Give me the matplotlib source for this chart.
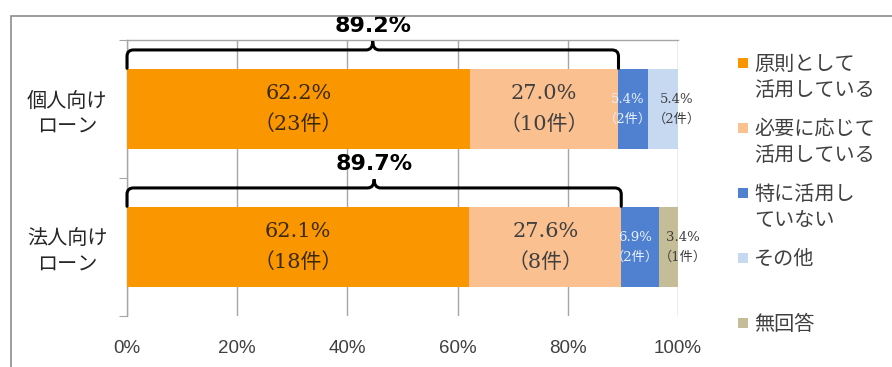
import matplotlib.pyplot as plt
import numpy as np
from matplotlib.patches import PathPatch, Rectangle
from matplotlib.path import Path

CATEGORIES = ["個人向け\nローン", "法人向け\nローン"]
SERIES = [
    "原則として\n活用している",
    "必要に応じて\n活用している",
    "特に活用し\nていない",
    "その他",
    "無回答",
]
# share (%) per category, one list per series
PCT = [
    [62.2, 62.1],
    [27.0, 27.6],
    [5.4, 6.9],
    [5.4, 0.0],
    [0.0, 3.4],
]
COUNTS = [
    [23, 18],
    [10, 8],
    [2, 2],
    [2, 0],
    [0, 1],
]
COLORS = ["#FA9600", "#FAC090", "#4F81D0", "#C6D9F1", "#C4BD97"]
LABEL_COLORS = ["#3B2A0A", "#404040", "#E8F0FC", "#404040", "#404040"]
XTICKS = [0, 20, 40, 60, 80, 100]

JP = "Noto Sans CJK JP"
SERIF = ["DejaVu Serif", JP]
BAR_H = 0.58
# horizontal nudge (points) for labels of the narrow segments
LABEL_DX = [0, 0, -4, 10, 10]


def brace(ax, x0, x1, base, y_line, y_tip):
    """Curly bracket spanning x0..x1, ends resting on `base`."""
    mid = (x0 + x1) / 2
    rx = 1.2
    ry = (y_line - base) * 0.35
    verts = [
        (x0, base), (x0, y_line - ry), (x0, y_line), (x0 + rx, y_line),
        (mid - rx, y_line), (mid, y_line), (mid, y_tip),
        (mid, y_line), (mid + rx, y_line),
        (x1 - rx, y_line), (x1, y_line), (x1, y_line - ry),
        (x1, base),
    ]
    codes = [
        Path.MOVETO, Path.LINETO, Path.CURVE3, Path.CURVE3,
        Path.LINETO, Path.CURVE3, Path.CURVE3,
        Path.CURVE3, Path.CURVE3,
        Path.LINETO, Path.CURVE3, Path.CURVE3,
        Path.LINETO,
    ]
    ax.add_patch(PathPatch(Path(verts, codes), fill=False, lw=2.2,
                           ec="black", capstyle="round", clip_on=False, zorder=5))


def main() -> None:
    plt.rcParams["font.family"] = [JP, "DejaVu Sans"]
    fig = plt.figure(figsize=(8.92, 3.67), dpi=100)
    ax = fig.add_axes([127 / 892, 1 - 316 / 367, 551 / 892, 276 / 367])

    # outer chart frame
    fig.patches.append(Rectangle((11 / 892, -0.2), 1.2, 1.2 - 16 / 367,
                                 transform=fig.transFigure, fill=False,
                                 ec="#8C8C8C", lw=1.2))

    ypos = np.arange(len(CATEGORIES))[::-1]
    left = np.zeros(len(CATEGORIES))
    for i, (vals, cnts) in enumerate(zip(PCT, COUNTS)):
        vals = np.array(vals)
        ax.barh(ypos, vals, left=left, height=BAR_H, color=COLORS[i],
                zorder=3, lw=0)
        for j, (v, c) in enumerate(zip(vals, cnts)):
            if v <= 0:
                continue
            xc = left[j] + v / 2
            big = v > 15
            ax.annotate(
                f"{v:.1f}%\n（{c}件）",
                (xc, ypos[j]), xytext=(LABEL_DX[i], 0),
                textcoords="offset points",
                ha="center", va="center", ma="center",
                fontsize=15 if big else 9.5, family=SERIF,
                color=LABEL_COLORS[i], linespacing=1.7 if big else 1.65,
                zorder=6, annotation_clip=False,
            )
        left = left + vals

    # bracket over the first two series
    totals = np.array(PCT[0]) + np.array(PCT[1])
    for j, tot in enumerate(totals):
        top = ypos[j] + BAR_H / 2
        brace(ax, 0, tot, top + 0.005, top + 0.138, top + 0.20)
        ax.text(tot / 2, top + 0.31, f"{tot:.1f}%", ha="center", va="center",
                fontsize=16, fontweight="bold", family="DejaVu Sans",
                color="black", zorder=6, clip_on=False)

    ax.set_xlim(0, 100)
    ax.set_ylim(-0.5, len(CATEGORIES) - 0.5)
    ax.set_xticks(XTICKS)
    ax.set_xticklabels([f"{t}%" for t in XTICKS], family="Liberation Sans",
                       fontsize=13.5, color="#404040")
    ax.tick_params(axis="x", length=0, pad=17)
    ax.grid(True, axis="x", color="#A6A6A6", lw=1, zorder=0)

    ax.set_yticks(np.arange(-0.5, len(CATEGORIES)))
    ax.set_yticklabels([])
    ax.tick_params(axis="y", which="major", length=6, color="#A6A6A6",
                   direction="out")
    ax.set_yticks(ypos, minor=True)
    ax.set_yticklabels(CATEGORIES, minor=True, fontsize=14.5, color="#262626")
    ax.tick_params(axis="y", which="minor", length=0, pad=14)
    for lab in ax.get_yticklabels(minor=True):
        lab.set_multialignment("center")
        lab.set_linespacing(1.35)

    for side in ("bottom", "right"):
        ax.spines[side].set_visible(False)
    for side in ("left", "top"):
        ax.spines[side].set_color("#A6A6A6")
        ax.spines[side].set_linewidth(1)

    # legend: one slot per series, square beside the first text line
    for i, name in enumerate(SERIES):
        y_first = 1 - (63 + i * 65) / 367
        fig.patches.append(Rectangle((738 / 892, y_first - 5 / 367), 10 / 892,
                                     10 / 367, transform=fig.transFigure,
                                     color=COLORS[i], lw=0))
        fig.text(754 / 892, y_first + 9 / 367, name, ha="left", va="top",
                 fontsize=14.5, color="#404040", linespacing=1.3)

    fig.savefig("out.png", dpi=100)
    plt.close(fig)


if __name__ == "__main__":
    main()
